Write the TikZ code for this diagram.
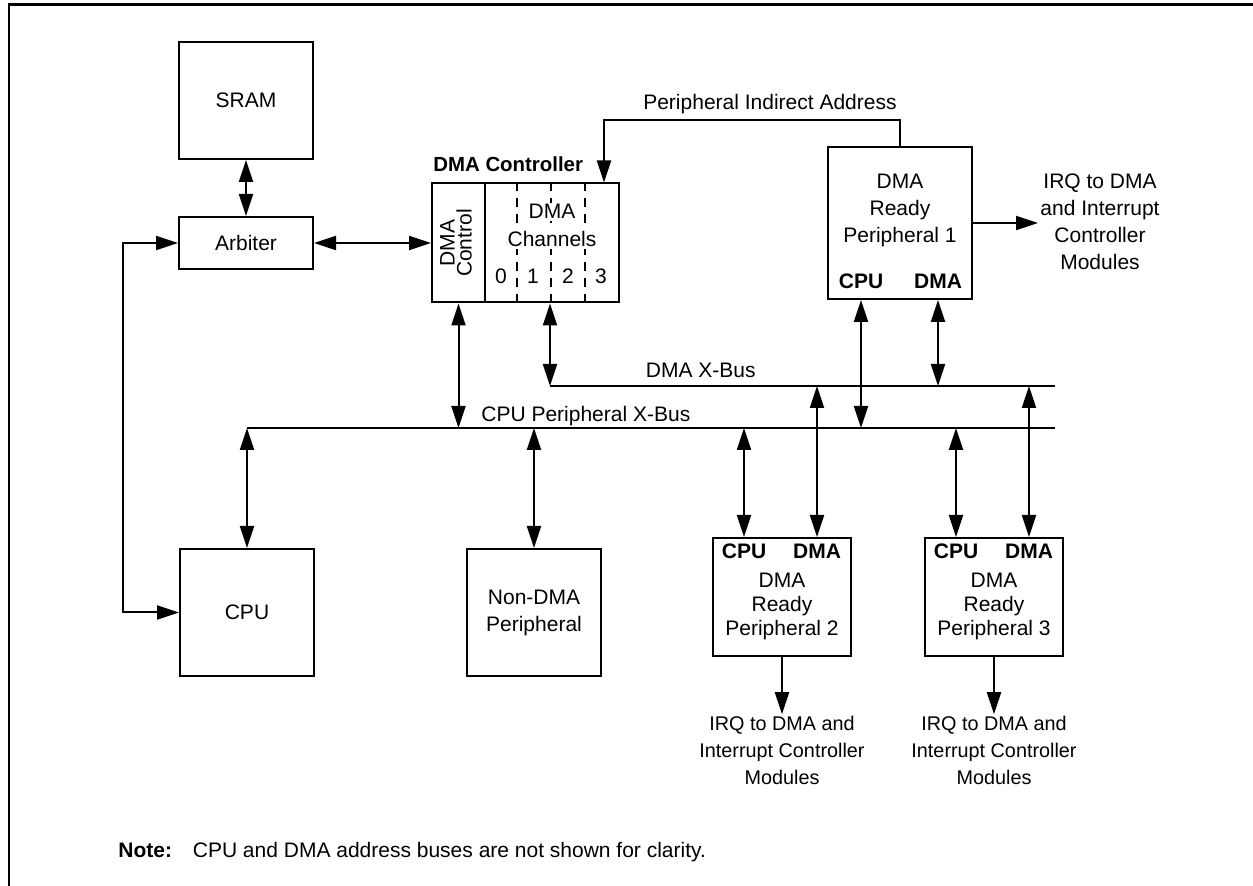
\documentclass[tikz,border=0pt]{standalone}
\usepackage{fontspec}
\setmainfont{Liberation Sans}
\usetikzlibrary{arrows.meta}
\usetikzlibrary{calc}
\usetikzlibrary{positioning}
\newcommand{\lbl}{\fontsize{10.5}{13.5}\selectfont}

\tikzset{
  blk/.style={draw, line width=1pt, inner sep=0pt, align=center},
  txt/.style={inner sep=1pt, align=center},
  bus/.style={line width=1pt},
  arrow/.style={line width=1pt, -{Triangle[length=11pt,width=7pt]}},
  biarrow/.style={line width=1pt, {Triangle[length=11pt,width=7pt]}-{Triangle[length=11pt,width=7pt]}},
}

\begin{document}
\begin{tikzpicture}[x=0.5pt,y=-0.5pt,font=\lbl]
\useasboundingbox (0,0) rectangle (1253,886);
\draw[line width=1.3pt] (9,886) -- (9,4.5) -- (1253,4.5);
% memory side
\node[blk, minimum width=67pt, minimum height=58.5pt] (sram) at (246,100.5) {SRAM};
\node[blk, minimum width=67pt, minimum height=26pt] (arb) at (246,243) {Arbiter};
\node[blk, minimum width=67pt, minimum height=63.5pt] (cpu) at (247,612.5) {CPU};
\node[blk, minimum width=67pt, minimum height=63.5pt] (ndma) at (534,612.5) {Non-DMA\\Peripheral};
% DMA controller
\node[blk, minimum width=26.5pt, minimum height=59.5pt] (dmactl) at (458.5,243) {};
\node[blk, minimum width=67pt, minimum height=59.5pt] (dmach) at (552,243) {};
\foreach \f in {0.24,0.49,0.74}
  \draw[line width=1pt, dash pattern=on 4.5pt off 3.5pt] ($(dmach.north west)!\f!(dmach.north east)$) -- ($(dmach.south west)!\f!(dmach.south east)$);
\node[txt, rotate=90, font=\fontsize{10.5}{8.5}\selectfont] (ctltxt) at (456,243) {DMA\\Control};
\node[txt, anchor=base, fill=white] (chdma) at (552,219) {DMA};
\node[txt, anchor=base, fill=white] (chname) at (552,247) {Channels};
\foreach \n/\xx in {0/501,1/533,2/568,3/601}
  \node[txt, anchor=base] (ch\n) at (\xx,284) {\n};
\node[txt, anchor=base west, font=\fontsize{10.2}{13.5}\selectfont\bfseries] (dmactitle) at (431,172) {DMA Controller};
% peripheral 1
\node[blk, minimum width=72pt, minimum height=76pt] (p1) at (900,223) {};
\node[txt] (ptxt1) at (900,210) {DMA\\Ready\\Peripheral 1};
\node[txt, anchor=base, font=\lbl\bfseries] (pcpu1) at (861,289) {CPU};
\node[txt, anchor=base, font=\lbl\bfseries] (pdma1) at (938,289) {DMA};
\node[txt] (irq1) at (1100,222) {IRQ to DMA\\and Interrupt\\Controller\\Modules};
% peripherals 2 and 3
\foreach \i/\xx in {2/782,3/994} {
  \node[blk, minimum width=69pt, minimum height=59pt] (p\i) at (\xx,597) {};
  \node[txt, font=\fontsize{10.5}{12}\selectfont] (ptxt\i) at (\xx,606) {DMA\\Ready\\Peripheral \i};
  \node[txt, anchor=base, font=\lbl\bfseries] (pcpu\i) at (\xx-38,559) {CPU};
  \node[txt, anchor=base, font=\lbl\bfseries] (pdma\i) at (\xx+35,559) {DMA};
  \node[txt, font=\fontsize{9.9}{13.3}\selectfont] (irq\i) at (\xx,750.5) {IRQ to DMA and\\Interrupt Controller\\Modules};
}
% buses
\coordinate (dbusL) at (550,386);
\coordinate (dbusR) at (1055,386);
\coordinate (cbusL) at (247,428);
\coordinate (cbusR) at (1055,428);
\draw[bus] (dbusL) -- (dbusR);
\draw[bus] (cbusL) -- (cbusR);
\node[txt, anchor=base east] (dbuslbl) at (758,378) {DMA X-Bus};
\node[txt, anchor=base west] (cbuslbl) at (479,422) {CPU Peripheral X-Bus};
% connectors
\draw[biarrow] (sram) -- (arb);
\draw[biarrow] (arb) -- (dmactl);
\coordinate (lft) at (123,243);
\draw[biarrow] (arb.west) -- (lft) |- (cpu.west);
\draw[biarrow] (dmactl.south) -- (dmactl.south |- cbusL);
\draw[biarrow] (dbusL |- dmach.south) -- (dbusL);
\draw[biarrow] (cpu.north) -- (cbusL);
\draw[biarrow] (ndma.north) -- (ndma.north |- cbusL);
\coordinate (pia) at (604,120);
\draw[arrow] (p1.north) |- (pia) -- (pia |- dmach.north);
\node[txt, anchor=base east] (pialbl) at (899,110) {Peripheral Indirect Address};
\draw[arrow] (p1.east) -- (p1.east -| irq1.west);
\draw[biarrow] (pcpu1 |- p1.south) -- (pcpu1 |- cbusL);
\draw[biarrow] (pdma1 |- p1.south) -- (pdma1 |- dbusL);
\foreach \i in {2,3} {
  \draw[biarrow] (pcpu\i |- p\i.north) -- (pcpu\i |- cbusL);
  \draw[biarrow] (pdma\i |- p\i.north) -- (pdma\i |- dbusL);
  \draw[arrow] (p\i.south) -- (irq\i.north);
}
% note
\node[txt, anchor=base west] (note) at (116,857) {\textbf{Note:}\hspace{6.5pt} CPU and DMA address buses are not shown for clarity.};
\end{tikzpicture}
\end{document}
